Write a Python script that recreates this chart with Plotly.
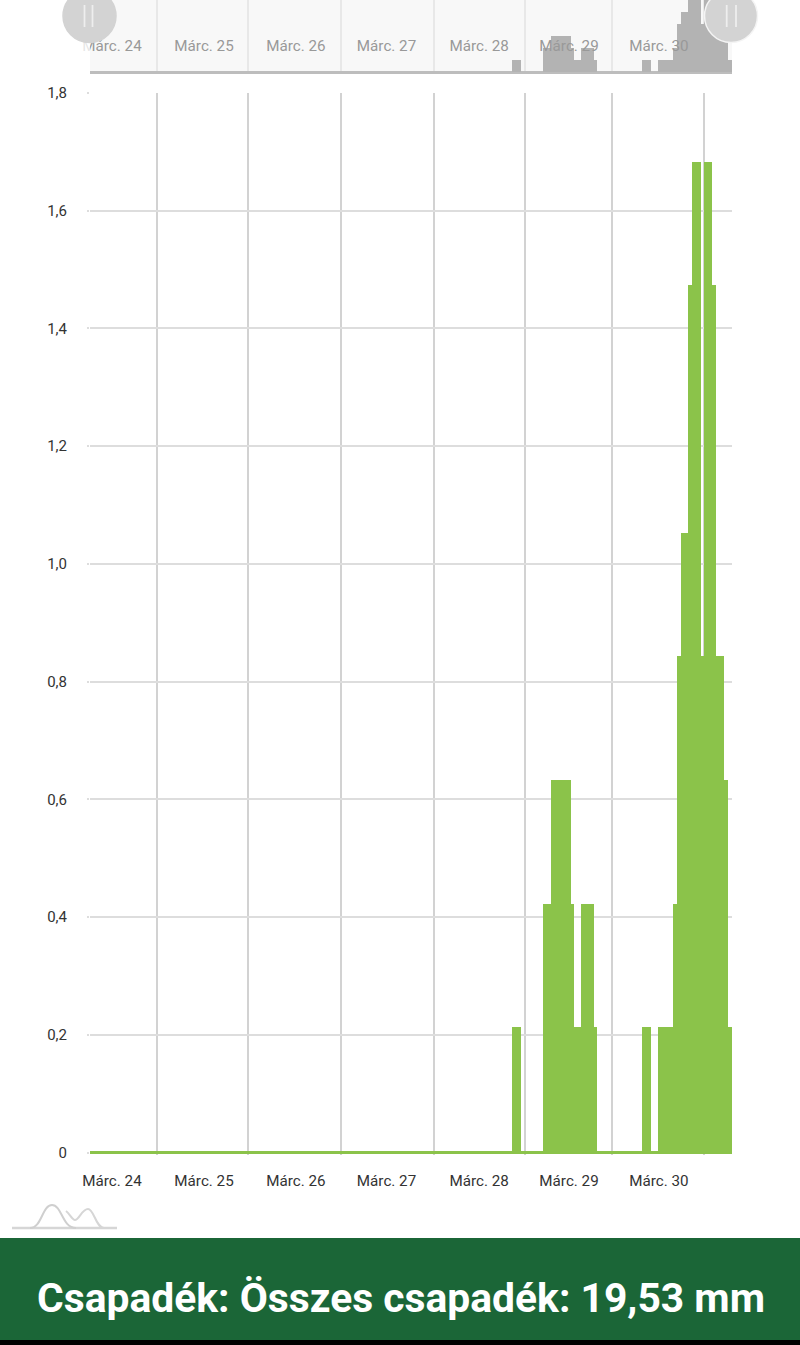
import plotly.graph_objects as go

# Hours from the left edge of the chart
bar_hours = [111.5, 119.5, 120.5, 121.5, 122.5, 123.5, 124.5, 125.5, 126.5, 127.5, 128.5, 129.5, 130.5, 131.5,
             145.5, 149.5, 150.5, 151.5, 152.5, 153.5, 154.5, 155.5, 156.5, 157.5, 158.5, 159.5, 160.5,
             161.5, 162.5, 163.5, 164.5, 165.5, 166.5, 167.5]
precip = [0.213, 0.423, 0.423, 0.633, 0.633, 0.633, 0.633, 0.423, 0.213, 0.213, 0.213, 0.423, 0.423, 0.213,
          0.213, 0.213, 0.213, 0.213, 0.213, 0.423, 0.843, 1.053, 1.053, 1.473, 1.683, 0.843, 0.843,
          1.683, 1.473, 0.843, 0.843, 0.633, 0.213, 0.213]
day_labels = ["Márc. 24", "Márc. 25", "Márc. 26", "Márc. 27", "Márc. 28", "Márc. 29", "Márc. 30"]
label_hours = [5.75, 29.8, 53.8, 77.5, 101.7, 125.2, 148.7]
grid_hours = [17.4, 41.4, 65.7, 89.8, 113.7, 136.5, 160.5]
y_ticks = [0, 0.2, 0.4, 0.6, 0.8, 1.0, 1.2, 1.4, 1.6, 1.8]
y_labels = ["0", "0,2", "0,4", "0,6", "0,8", "1,0", "1,2", "1,4", "1,6", "1,8"]
title_text = "Csapadék: Összes csapadék: 19,53 mm"

W, H = 800, 1345
X_RANGE = [0, 167.8]
BAR_W = 2.25
GREEN = "#8bc34a"
FONT = "Roboto"

def fx(p): return p / W
def fy(p): return 1 - p / H

def rect(x0, y0, x1, y1, color, layer="below"):
    return dict(type="rect", xref="paper", yref="paper", x0=fx(x0), x1=fx(x1), y0=fy(y0), y1=fy(y1),
                fillcolor=color, line_width=0, layer=layer)

def circle(cx, cy, r, color, line_color=None):
    return dict(type="circle", xref="paper", yref="paper", x0=fx(cx - r), x1=fx(cx + r), y0=fy(cy + r), y1=fy(cy - r),
                fillcolor=color, line=dict(color=line_color or color, width=1.5), layer="above")

def seg(x0, y0, x1, y1, color, width):
    return dict(type="line", xref="paper", yref="paper", x0=fx(x0), x1=fx(x1), y0=fy(y0), y1=fy(y1),
                line=dict(color=color, width=width), layer="above")

def curve(start, *cubics, color, width):
    d = f"M{fx(start[0]):.5f},{fy(start[1]):.5f}"
    for c in cubics:
        d += " C" + " ".join(f"{fx(a):.5f},{fy(b):.5f}" for a, b in c)
    return dict(type="path", xref="paper", yref="paper", path=d, line=dict(color=color, width=width), layer="above")

fig = go.Figure()
fig.add_trace(go.Bar(x=bar_hours, y=precip, width=BAR_W, marker=dict(color=GREEN, line_width=0),
                     xaxis="x", yaxis="y", showlegend=False, hoverinfo="skip"))
fig.add_trace(go.Bar(x=bar_hours, y=precip, width=BAR_W, marker=dict(color="#b3b3b3", line_width=0),
                     xaxis="x3", yaxis="y2", showlegend=False, hoverinfo="skip"))
# Invisible traces that keep the label-only axes alive
fig.add_trace(go.Scatter(x=label_hours, y=[0] * len(label_hours), mode="none", xaxis="x2", yaxis="y",
                         showlegend=False, hoverinfo="skip"))
fig.add_trace(go.Scatter(x=label_hours, y=[0] * len(label_hours), mode="none", xaxis="x4", yaxis="y2",
                         showlegend=False, hoverinfo="skip"))

main_dom = [fy(1155), fy(93)]
nav_dom = [fy(74), 1.0]

shapes = [
    rect(90, 0, 732, 72, "#f8f8f8"),
    rect(0, 1238, 800, 1340, "#1b6637"),
    rect(0, 1340, 800, 1345, "#000000"),
    rect(78, 36, 90, 56, "rgba(255,255,255,0.75)", "above"),
    circle(89.5, 16, 26.5, "#d3d3d3"),
    seg(84.5, 5, 84.5, 27, "#eeeeee", 1.8),
    seg(92.5, 5, 92.5, 27, "#eeeeee", 1.8),
    circle(731, 16, 26.5, "#d3d3d3", "#f4f4f4"),
    seg(726.7, 5, 726.7, 27, "#eeeeee", 1.8),
    seg(736, 5, 736, 27, "#eeeeee", 1.8),
    seg(12, 1228, 117, 1228, "#d6d6d6", 2.5),
    curve((30, 1228), [(42, 1228), (42, 1205), (52, 1205)], [(62, 1205), (62, 1228), (76, 1228)], color="#cfcfcf", width=2),
    curve((66, 1211), [(70, 1214), (72, 1220), (75, 1220)], [(79, 1220), (82, 1209), (88, 1209)],
          [(94, 1209), (96, 1228), (104, 1228)], color="#d6d6d6", width=2),
]

fig.update_layout(
    width=W, height=H, autosize=False,
    margin=dict(l=0, r=0, t=0, b=0, pad=0, autoexpand=False),
    paper_bgcolor="white", plot_bgcolor="rgba(0,0,0,0)",
    font=dict(family=FONT, size=14.5, color="#333333"),
    barmode="overlay", bargap=0,
    shapes=shapes,
    annotations=[dict(text=f"<b>{title_text}</b>", xref="paper", yref="paper", x=0.5015, y=fy(1297.5),
                      xanchor="center", yanchor="middle", showarrow=False,
                      font=dict(family=FONT, size=40.8, color="white"))],
    xaxis=dict(domain=[fx(90), fx(732)], range=X_RANGE, anchor="y", tickmode="array", tickvals=grid_hours,
               showticklabels=False, ticks="", showgrid=True, gridcolor="#d2d2d2", gridwidth=1.5, zeroline=False, showline=False),
    xaxis2=dict(overlaying="x", range=X_RANGE, anchor="y", tickmode="array", tickvals=label_hours, ticktext=day_labels,
                ticks="", ticklabelstandoff=15, showgrid=False, zeroline=False, showline=False,
                tickfont=dict(family=FONT, size=15.2, color="#333333")),
    yaxis=dict(domain=main_dom, range=[-2.5 / 588.6, 1.8], anchor="x", tickmode="array", tickvals=y_ticks, ticktext=y_labels,
               ticks="outside", ticklen=2, tickcolor="#dddddd", tickwidth=1.5, ticklabelstandoff=17,
               showgrid=True, gridcolor="#dddddd", gridwidth=1.5, zeroline=True, zerolinecolor=GREEN, zerolinewidth=3, showline=False,
               tickfont=dict(family=FONT, size=15, color="#333333")),
    xaxis3=dict(domain=[fx(90), fx(732)], range=X_RANGE, anchor="y2", tickmode="array", tickvals=grid_hours,
                showticklabels=False, ticks="", showgrid=True, gridcolor="#e8e8e8", gridwidth=1.5, zeroline=False, showline=False),
    xaxis4=dict(overlaying="x3", range=X_RANGE, anchor="free", position=fy(35), tickmode="array", tickvals=label_hours, ticktext=day_labels,
                ticks="", showgrid=False, zeroline=False, showline=False,
                tickfont=dict(family=FONT, size=15.2, color="#999999")),
    yaxis2=dict(domain=nav_dom, range=[-2 / 57, 72 / 57], anchor="x3", showticklabels=False, ticks="", showgrid=False,
                zeroline=True, zerolinecolor="#bdbdbd", zerolinewidth=2.5, showline=False),
)

fig.write_html("out.html", config={"displayModeBar": False},
               post_script="document.body.style.margin='0';document.documentElement.style.overflow='hidden';")
